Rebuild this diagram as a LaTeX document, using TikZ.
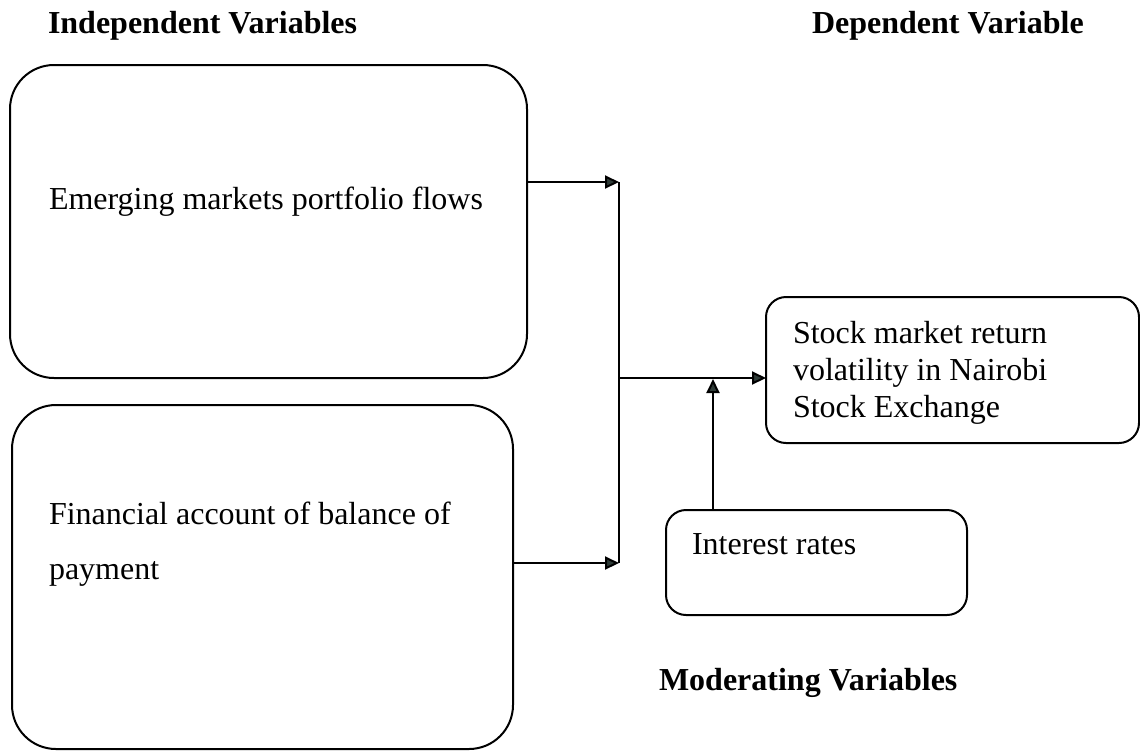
\documentclass[tikz,border=0pt]{standalone}
\usepackage{fontspec}
\setmainfont{Liberation Serif}
\usetikzlibrary{arrows.meta}
\definecolor{headfill}{HTML}{2E3B37}
\begin{document}
\begin{tikzpicture}[x=0.5pt,y=-0.5pt,
  every node/.style={inner sep=0pt,outer sep=0pt},
  bigbox/.style={draw,line width=1pt,rounded corners=22pt,rectangle},
  smallbox/.style={draw,line width=1pt,rounded corners=10pt,rectangle},
  txt/.style={anchor=base west,font=\fontsize{16}{19}\selectfont},
  ttl/.style={anchor=base west,font=\fontsize{16}{19}\selectfont\bfseries},
  conn/.style={line width=1pt},
  arr/.style={line width=1pt,-{Triangle[length=7pt,width=6.5pt,fill=headfill]}}]
\useasboundingbox (0,0) rectangle (1140,751);
% boxes
\node[bigbox,minimum width=258.5pt,minimum height=156.5pt] (b1) at (268.5,221.5) {};
\node[bigbox,minimum width=250.5pt,minimum height=172pt] (b2) at (262.5,577) {};
\node[smallbox,minimum width=186.5pt,minimum height=73pt] (dep) at (952.5,370) {};
\node[smallbox,minimum width=150.5pt,minimum height=52.5pt] (ir) at (816.5,562.5) {};
% titles
\node[ttl] (tind) at (48,33) {Independent Variables};
\node[ttl] (tdep) at (812,33) {Dependent Variable};
\node[ttl] (tmod) at (659,690) {Moderating Variables};
% box texts
\node[txt] (x1) at (49,209) {Emerging markets portfolio flows};
\node[txt] (x2a) at (49,524) {Financial account of balance of};
\node[txt] (x2b) at (49,579) {payment};
\node[txt] (d1) at (793,343) {Stock market return};
\node[txt] (d2) at (793,380) {volatility in Nairobi};
\node[txt] (d3) at (793,417) {Stock Exchange};
\node[txt] (i1) at (692,554) {Interest rates};
% connectors
\coordinate (j1) at (619,182);
\coordinate (j2) at (619,563);
\coordinate (jm) at (619,378);
\coordinate (m) at (713,379);
\draw[arr] (b1.east |- j1) -- (j1);
\draw[arr] (b2.east |- j2) -- (j2);
\draw[conn] (j1) -- (j2);
\draw[arr] (jm) -- (dep.west |- jm);
\draw[arr] (ir.north -| m) -- (m);
\end{tikzpicture}
\end{document}
